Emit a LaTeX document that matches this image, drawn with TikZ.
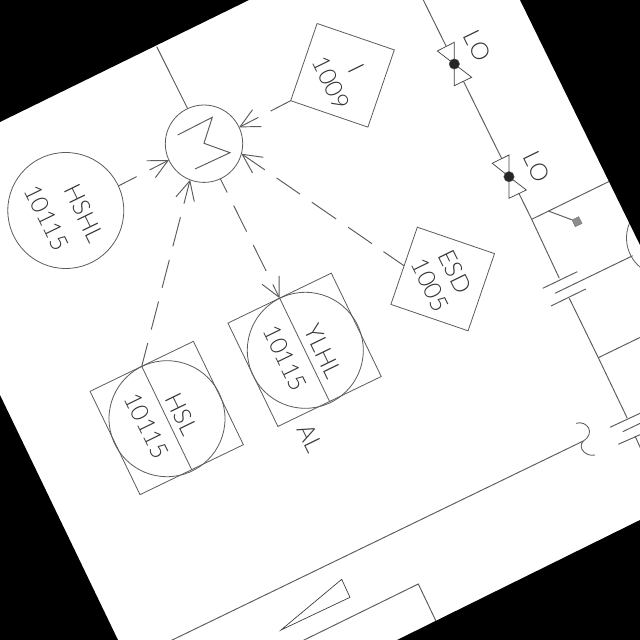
\documentclass[tikz,border=0pt]{standalone}
\usepackage{fontspec}
\setmainfont{Liberation Sans}
\newfontfamily\cadfont{Lato Light}[Kerning=Off,Numbers=Monospaced]
\usetikzlibrary{arrows.meta}
\definecolor{ink}{gray}{0.36}
\definecolor{txtink}{gray}{0.2}
\tikzset{
  pipe/.style={draw=ink,line width=0.95pt},
  thin ink/.style={draw=black!75,line width=0.7pt},
  dashlink/.style={pipe,-{Straight Barb[length=19pt,width=19pt]}},
  disc/.style={circle,draw=ink,line width=0.8pt,inner sep=0pt,outer sep=0pt},
  bigdisc/.style={disc,minimum size=116pt},
  motor/.style={disc,minimum size=77.4pt},
  diamondbox/.style={rectangle,draw=ink,line width=0.8pt,inner sep=0pt,outer sep=0pt,minimum size=81.6pt,rotate=-18.9},
  squarebox/.style={rectangle,draw=ink,line width=0.8pt,inner sep=0pt,outer sep=0pt,minimum size=114.8pt,rotate=25.8},
  tag/.style={text=txtink,inner sep=0pt,rotate=-64,font=\cadfont\fontsize{24}{24}\selectfont},
  valvepart/.style={draw=black!75,fill=white,line width=0.7pt},
  ball/.style={circle,fill=black!85,draw=black!60,inner sep=0pt,minimum size=10.5pt},
  mask/.style={fill=black,draw=none}
}
\begin{document}
\begin{tikzpicture}[x=1pt,y=-1pt]
\useasboundingbox (0,0) rectangle (640,640);
\fill[white] (0,0) rectangle (640,640);
% process line and branches
\coordinate (ptop) at (423.3,0);
\coordinate (pa) at (531.7,219.3);
\coordinate (pb) at (559.3,278.3);
\coordinate (pc) at (569.3,298.3);
\coordinate (pd) at (598.3,357.7);
\coordinate (pe) at (627.3,418.3);
\coordinate (pf) at (635,436);
\coordinate (pg) at (645,458);
\draw[pipe] (ptop) -- (pa) -- (pb);
\draw[pipe] (pc) -- (pd) -- (pe);
\draw[pipe] (pf) -- (pg);
\coordinate (brA) at (612,180);
\draw[pipe] (pa) -- (brA);
\coordinate (brD) at (645,335);
\draw[pipe] (pd) -- (brD);
% capacitor like plates
\coordinate (c1a) at (542.7,288.3);\coordinate (c1b) at (577.3,271.7);
\coordinate (c2a) at (551,306);\coordinate (c2b) at (585.7,289);
\coordinate (cmid) at (555,293.3);\coordinate (cmidr) at (632.7,255.7);
\draw[pipe] (c1a) -- (c1b);
\draw[pipe] (c2a) -- (c2b);
\draw[pipe] (cmid) -- (cmidr);
\node[disc,minimum size=76pt] (cmotor) at (664.5,238) {};
\coordinate (d1a) at (610,427.3);\coordinate (d1b) at (645,411);
\coordinate (d2a) at (618.3,444.3);\coordinate (d2b) at (645,432.5);
\coordinate (dmid) at (622.7,431.7);\coordinate (dmidr) at (645,421);
\draw[pipe] (d1a) -- (d1b);
\draw[pipe] (d2a) -- (d2b);
\draw[pipe] (dmid) -- (dmidr);
% small sensor stem
\node[rectangle,fill=black!45,draw=black!55,line width=0.4pt,minimum size=7.5pt,inner sep=0pt,rotate=26] (sq) at (577,221.7) {};
\coordinate (stem) at (548.3,211);
\draw[pipe] (stem) -- (sq);
% valves
\node[ball,opacity=0] (v1) at (454.3,64) {};
\node[ball,opacity=0] (v2) at (509,176.7) {};
\draw[valvepart] (437.3,51) -- (454.3,42.3) -- (454.3,64) -- cycle;
\draw[valvepart] (471.7,77.3) -- (454.3,85.7) -- (454.3,64) -- cycle;
\draw[valvepart] (492.3,163.3) -- (509,155) -- (509,176.7) -- cycle;
\draw[valvepart] (526.3,190) -- (509,198.3) -- (509,176.7) -- cycle;
\node[ball] at (v1) {};
\node[ball] at (v2) {};
\node[tag] (lo1) at (477.3,46) {LO};
\node[tag] (lo2) at (536.7,167) {LO};
% motor
\node[motor] (m) at (204,143.7) {};
\coordinate (mtop) at (156.7,46.7);
\draw[pipe] (mtop) -- (m.115);
\draw[pipe] (177.7,135) -- (212.3,117.3) -- (204,143.3) -- (230,152.7) -- (195,169);
% HSHL
\node[bigdisc] (hshl) at (65.8,210.5) {};
\node[tag] (hshlt) at (84.3,213) {HSHL};
\node[tag] (hshln) at (46.7,218) {10115};
% I 1009
\node[diamondbox] (boxi) at (342.5,75.3) {};
\node[tag] (it) at (356,69) {I};
\node[tag] (in) at (331,83) {1009};
% ESD
\node[diamondbox] (esd) at (442.7,279) {};
\node[tag] (esdt) at (455,271.7) {ESD};
\node[tag] (esdn) at (430,285) {1005};
% YLHL
\node[squarebox] (ylhl) at (304.6,349.8) {};
\node[bigdisc] (ylhlc) at (305.3,350.3) {};
\draw[pipe,line width=0.8pt] (ylhl.north) -- (ylhl.south);
\node[tag] (ylhlt) at (323.3,351.7) {YLHL};
\node[tag] (ylhln) at (285,358.3) {10115};
\node[tag] (al) at (310,438) {AL};
% HSL
\node[squarebox] (hsl) at (166.7,418) {};
\node[bigdisc] (hslc) at (167,418.7) {};
\draw[pipe,line width=0.8pt] (hsl.north) -- (hsl.south);
\node[tag] (hslt) at (181.7,414) {HSL};
\node[tag] (hsln) at (146.7,425.7) {10115};
% dashed links
\draw[dashlink,dash pattern=on 20.5pt off 14.5pt on 60pt] (hshl.25.9) -- (m.205.2);
\draw[dashlink,dash pattern=on 24pt off 14pt on 29pt off 14pt on 29pt off 14pt on 30pt off 14pt on 50pt] (hsl.north) -- (m.249.8);
\draw[dashlink,dash pattern=on 15.3pt off 14.7pt on 29pt off 15pt on 29pt off 15pt on 50pt] (m.295.3) -- (ylhl.north);
\draw[dashlink,dash pattern=on 25pt off 14pt on 29pt off 14.5pt on 29.5pt off 14.3pt on 28.6pt off 14.3pt on 50pt] (esd.west) -- (m.345.3);
\draw[dashlink,dash pattern=on 22.6pt off 13.8pt on 60pt] (boxi.south west) -- (m.25.9);
% lower lines
\coordinate (ln1) at (165,643.5);
\coordinate (ln2) at (583.3,441);
\draw[pipe] (ln1) -- (ln2);
\draw[pipe,line width=0.85pt] (576,423.3) .. controls (587,420) and (596,433) .. (ln2) .. controls (577,448) and (586,457) .. (595,455);
\draw[thin ink] (341.7,579.3) -- (350,597.3) -- (281,630) -- cycle;
\draw[pipe] (298,643) -- (418.3,584) -- (445,640);
% sheet outside
\fill[mask] (0,0) -- (249,0) -- (0,122) -- cycle;
\fill[mask] (520,0) -- (640,0) -- (640,245) -- cycle;
\fill[mask] (0,395) -- (0,640) -- (118,640) -- cycle;
\fill[mask] (397,640) -- (640,640) -- (640,520) -- cycle;
\end{tikzpicture}
\end{document}
